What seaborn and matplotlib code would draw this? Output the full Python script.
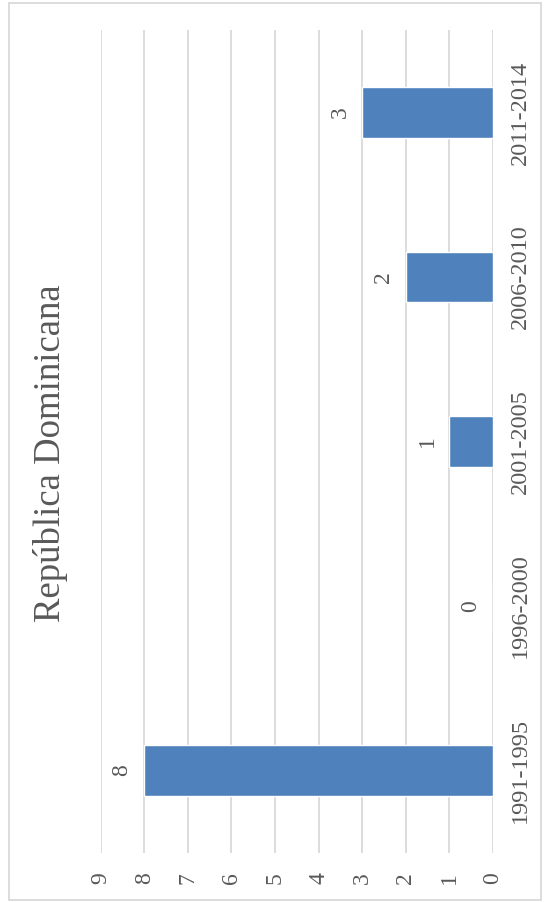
import matplotlib
matplotlib.use("Agg")
import matplotlib.pyplot as plt
import seaborn as sns
import pandas as pd
from matplotlib.patches import Rectangle

categories = ["1991-1995", "1996-2000", "2001-2005", "2006-2010", "2011-2014"]
values = [8, 0, 1, 2, 3]
value_ticks = [0, 1, 2, 3, 4, 5, 6, 7, 8, 9]
title = "República Dominicana"

sns.set_style("white")
plt.rcParams["font.family"] = ["Liberation Serif", "DejaVu Serif"]

TXT = "#595959"
GRID = "#d9d9d9"
BAR = "#4f81bd"

W, H = 544, 902
fig = plt.figure(figsize=(W / 100, H / 100), dpi=100)
ax = fig.add_axes([100.7 / W, 1 - 852.75 / H, (493 - 100.7) / W, (852.75 - 30.25) / H])

df = pd.DataFrame({"periodo": categories, "valor": values})
order = categories[::-1]
sns.barplot(data=df, x="valor", y="periodo", order=order, orient="h",
            color=BAR, saturation=1, width=0.31, ax=ax, zorder=3)

ax.set_xlim(max(value_ticks), min(value_ticks))
ax.set_xticks(value_ticks)
ax.set_xticklabels([str(v) for v in value_ticks])
ax.grid(axis="x", color=GRID, linewidth=1.3, zorder=0)
ax.grid(axis="y", visible=False)
ax.set_axisbelow(True)
for s in ax.spines.values():
    s.set_visible(False)
ax.set_xlabel("")
ax.set_ylabel("")

ax.tick_params(axis="x", length=0, pad=14, labelsize=17, labelcolor=TXT, labelrotation=90)
ax.yaxis.tick_right()
ax.tick_params(axis="y", length=0, pad=12, labelsize=17.5, labelcolor=TXT, labelrotation=90)
for lab in ax.get_yticklabels():
    lab.set_va("center")

for cat, val in zip(categories, values):
    ax.annotate(str(val), xy=(val, order.index(cat)), xytext=(-16, 0),
                textcoords="offset points", rotation=90, ha="center", va="center",
                fontsize=17, color=TXT)

fig.text(50.5 / W, 1 - 453 / H, title, rotation=90, ha="center", va="center",
         fontsize=26.5, color=TXT)

fig.patches.append(Rectangle((9 / W, 1 - 900 / H), (541 - 9) / W, (900 - 3) / H,
                             transform=fig.transFigure, fill=False,
                             edgecolor=GRID, linewidth=1.3))

fig.savefig("out.png", dpi=100)
